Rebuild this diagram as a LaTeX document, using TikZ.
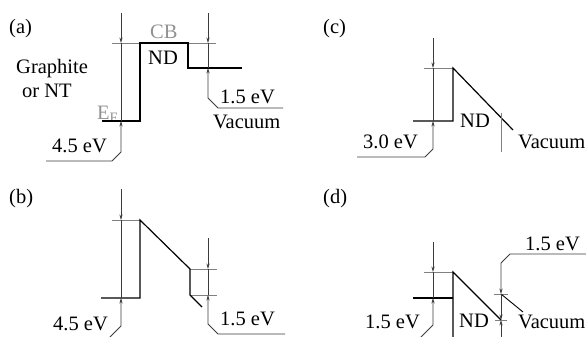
\documentclass[tikz,border=0pt]{standalone}
\usepackage{fontspec}
\setmainfont{Liberation Serif}
\usetikzlibrary{arrows.meta}
\definecolor{lvlgray}{RGB}{128,128,128}
\definecolor{dimgray}{RGB}{60,60,60}
\definecolor{txtgray}{RGB}{145,145,145}
\tikzset{
  band/.style={draw=black,line width=1.2pt,line join=miter},
  thinband/.style={draw=black,line width=0.9pt},
  lvl/.style={draw=lvlgray,line width=0.9pt},
  dimline/.style={draw=dimgray,line width=0.75pt},
  arr/.style={-{Stealth[length=5.5pt,width=3.2pt]}},
  lbl/.style={inner sep=0pt,anchor=base west,font=\fontsize{20.5}{22}\selectfont},
  glbl/.style={lbl,text=txtgray}
}
\begin{document}
\begin{tikzpicture}[x=1pt,y=-1pt]
\useasboundingbox (0,0) rectangle (586,337);
\clip (0,0) rectangle (586,337);
% ---------------- panel (a)
\node[lbl] (la) at (9,34) {(a)};
\node[lbl] (gr) at (16,74) {Graphite};
\node[lbl] (nt) at (22,97) {or NT};
\node[glbl] (cb) at (150,38) {CB};
\node[lbl] (nda) at (148,64) {ND};
\node[glbl] (ef) at (97,119) {E\textsubscript{F}};
\node[lbl] (a45) at (52,152) {4.5 eV};
\node[lbl] (a15) at (220,103) {1.5 eV};
\node[lbl] (avac) at (213,128) {Vacuum};
\draw[lvl] (112,43) -- (216,43);
\draw[band] (102,121) -- (140,121) -- (140,43) -- (188,43) -- (188,68) -- (242,68);
\draw[dimline,arr] (121,13) -- (121,43);
\draw[dimline] (121,43) -- (121,121);
\draw[dimline,arr] (46,161) -- (112,161) -- (121,152) -- (121,121);
\draw[dimline,arr] (208,13) -- (208,43);
\draw[dimline] (208,43) -- (208,68);
\draw[dimline,arr] (283,108) -- (218,108) -- (208,98) -- (208,68);
% ---------------- panel (c)
\node[lbl] (lc) at (323,34) {(c)};
\node[lbl] (c30) at (363,148) {3.0 eV};
\node[lbl] (ndc) at (460,127) {ND};
\node[lbl] (cvac) at (518,148) {Vacuum};
\draw[lvl] (424,68) -- (453,68);
\draw[band] (413,121) -- (453,121) -- (453,68) -- (513,130);
\draw[dimline,arr] (433,38) -- (433,68);
\draw[dimline] (433,68) -- (433,121);
\draw[dimline,arr] (357,157) -- (425,157) -- (433,149) -- (433,121);
\draw[lvl] (501,113) -- (501,152);
% ---------------- panel (b)
\node[lbl] (lb) at (9,203) {(b)};
\node[lbl] (b45) at (53,330) {4.5 eV};
\node[lbl] (b15) at (220,325) {1.5 eV};
\draw[lvl] (112,220) -- (140,220);
\draw[lvl] (190,269) -- (217,269);
\draw[lvl] (190,295) -- (217,295);
\draw[band] (101,298) -- (140,298) -- (140,220) -- (190,269) -- (190,295) -- (202,307);
\draw[dimline,arr] (121,189) -- (121,220);
\draw[dimline] (121,220) -- (121,298);
\draw[dimline,arr] (95,344) -- (103,344) -- (121,326) -- (121,298);
\draw[dimline,arr] (208,238) -- (208,269);
\draw[dimline] (208,269) -- (208,295);
\draw[dimline,arr] (285,334) -- (218,334) -- (208,324) -- (208,295);
% ---------------- panel (d)
\node[lbl] (ld) at (323,203) {(d)};
\node[lbl] (d15l) at (365,328) {1.5 eV};
\node[lbl] (ndd) at (459,327) {ND};
\node[lbl] (dvac) at (518,328) {Vacuum};
\node[lbl] (d15r) at (525,250) {1.5 eV};
\draw[lvl] (424,272) -- (453,272);
\draw[band] (413,298) -- (453,298);
\draw[band] (453,345) -- (453,272) -- (501,320);
\draw[dimline,arr] (433,242) -- (433,272);
\draw[dimline] (433,272) -- (433,298);
\draw[dimline,arr] (405,353) -- (433,325) -- (433,298);
\draw[dimline,arr] (586,254) -- (510,254) -- (501,263) -- (501,294);
\draw[lvl] (494,294) -- (508,294);
\draw[thinband] (501,294) -- (523,312);
\draw[dimline,arr] (501,294) -- (501,320);
\draw[lvl] (495,320) -- (507,320);
\draw[dimline,arr] (501,345) -- (501,320);
\end{tikzpicture}
\end{document}
